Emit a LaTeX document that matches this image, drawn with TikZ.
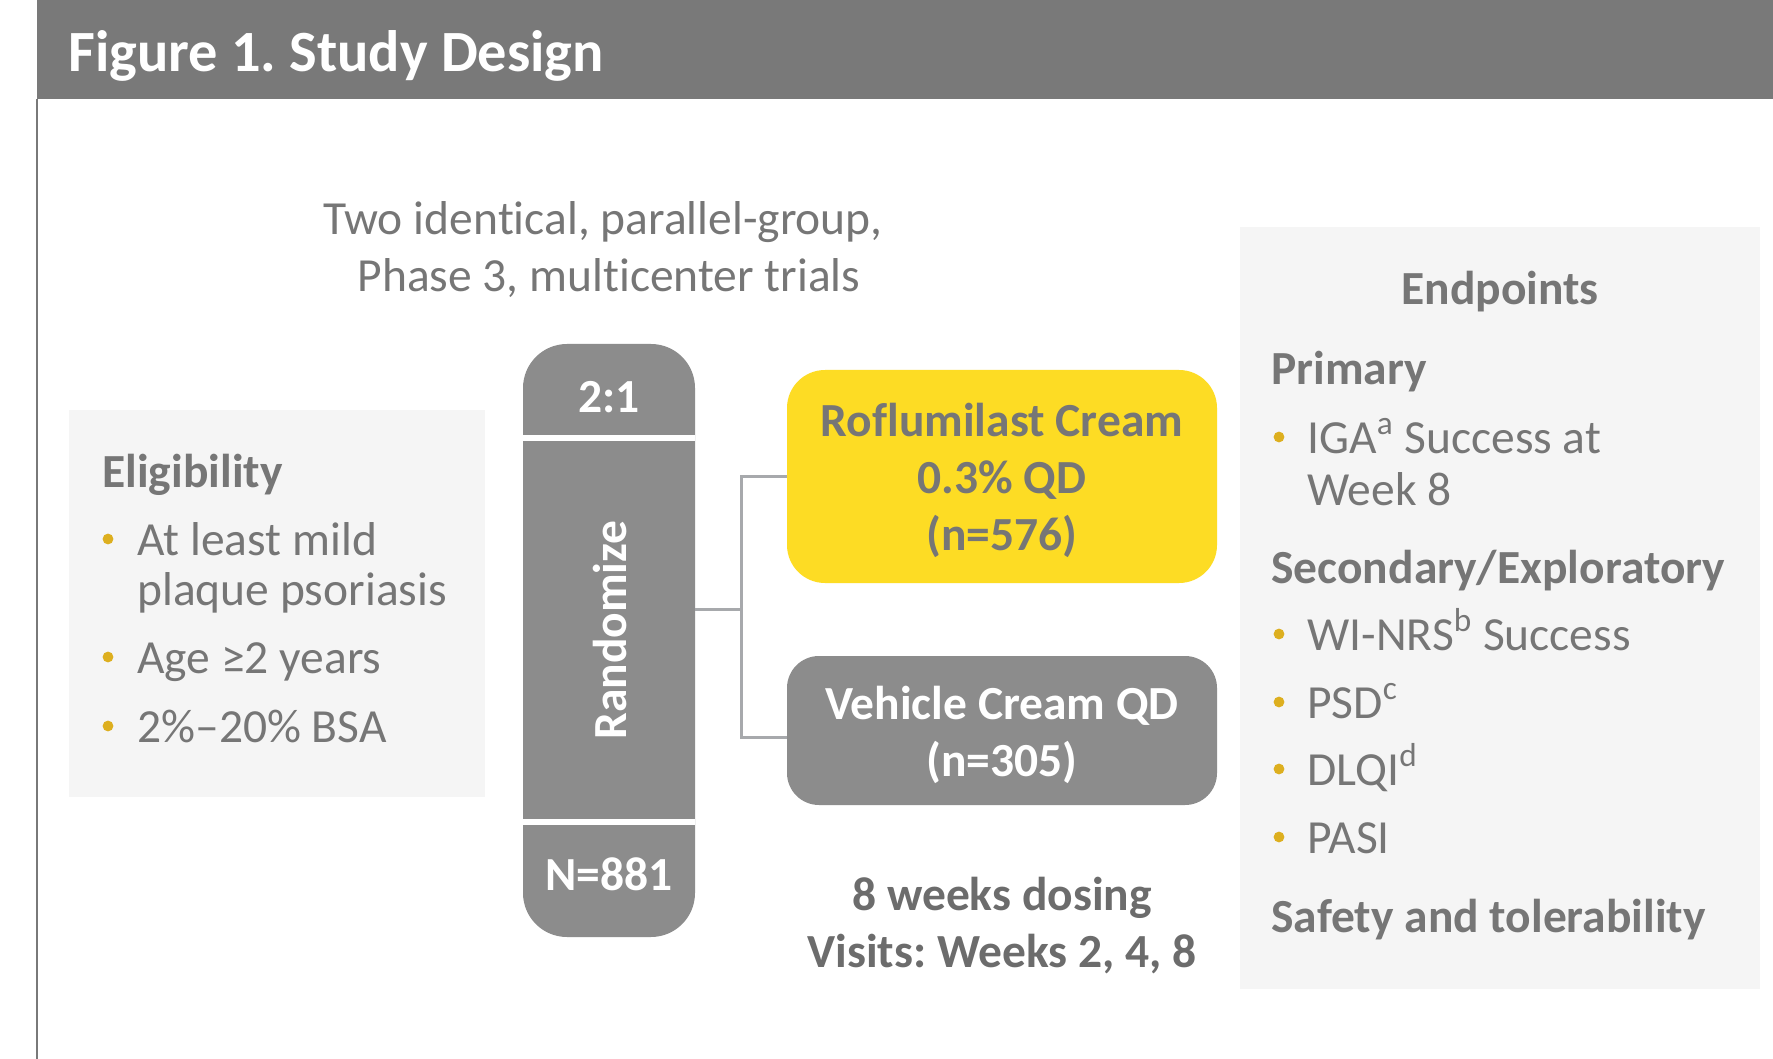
\documentclass[tikz,border=0pt]{standalone}
\usepackage{fontspec}
\setmainfont{Carlito}[Ligatures={TeX,NoCommon}]
\usetikzlibrary{positioning}

\definecolor{headgray}{HTML}{797979}
\definecolor{panel}{HTML}{F5F5F5}
\definecolor{textgray}{HTML}{767676}
\definecolor{darkgray}{HTML}{6C6C6C}
\definecolor{colgray}{HTML}{8C8C8C}
\definecolor{cream}{HTML}{FDDC24}
\definecolor{linkgray}{HTML}{A7A9AC}
\definecolor{gold}{HTML}{DDAF1F}

\tikzset{
  plain/.style={inner sep=0pt, text=textgray, font=\fontsize{23.75}{28.5}\selectfont},
  bold/.style={plain, font=\fontsize{23.75}{28.5}\selectfont\bfseries},
  title/.style={inner sep=0pt, text=white, font=\fontsize{29.2}{35}\selectfont\bfseries},
  collabel/.style={bold, text=white},
  arm/.style={rectangle, minimum width=215pt},
  armtext/.style={bold, align=center},
  link/.style={draw=linkgray, line width=1.5pt}
}

\begin{document}
\frenchspacing
\begin{tikzpicture}[x=0.5pt,y=-0.5pt]
  \useasboundingbox (0,0) rectangle (1773,1059);
  \fill[white] (0,0) rectangle (1773,1059);
  % header bar and left rule
  \fill[headgray] (37,0) rectangle (1773,99);
  \draw[headgray, line width=1pt] (37,99) -- (37,1059);
  \node[title, anchor=base west] (title) at (68,72) {Figure 1. Study Design};

  % side panels
  \fill[panel] (69,410) rectangle (485,797); \fill[panel] (1240,227) rectangle (1760,989);

  % anchor=base sits on the last line here; \kern0pt keeps t and i apart
  \node[plain, anchor=base, align=center] (trials) at (603,292) {Two iden\kern0pt t\kern0pt ical, parallel-group,\\ \hphantom{.}Phase 3, mul\kern0pt t\kern0pt icenter trials};

  % eligibility list
  \node[bold, anchor=base west] (elig) at (102,487) {Eligibility};
  \foreach \y/\t [count=\i] in {555/At least mild, 605/plaque psoriasis, 673/Age ≥2 years, 742/2\%--20\% BSA} {
    \node[plain, anchor=base west] (elig-\i) at (137,\y) {\t}; }
  \foreach \y in {555,673,742} { \fill[gold] (108,\y-16) circle (2.7pt); }

  % randomization column
  \node[fill=colgray, rounded corners=22pt, minimum width=86pt, minimum height=296.5pt] (col) at (609,640.5) {};
  \draw[white, line width=3pt] (col.west |- 0,438) -- (col.east |- 0,438) (col.west |- 0,822) -- (col.east |- 0,822);
  \node[collabel] (ratio) at (609,397) {2:1};
  \node[collabel, rotate=90] (rand) at (610,630) {Randomize};
  \node[collabel] (total) at (609,874) {N=881};

  % treatment arms
  \node[arm, fill=cream, minimum height=106.5pt, rounded corners=19pt] (roflu) at (1002,476.5) {};
  \node[armtext] (roflu-txt) at ([yshift=-2pt]roflu.center) {Roflumilast Cream\\0.3\% QD\\(n=576)};
  \node[arm, fill=colgray, minimum height=74.5pt, rounded corners=16pt] (vehicle) at (1002,730.5) {};
  \node[armtext, text=white] (vehicle-txt) at ([yshift=-2pt]vehicle.center) {Vehicle Cream QD\\(n=305)};
  \coordinate (split) at (741,609);
  \draw[link] (col.east |- split) -- (split);
  \draw[link] (roflu.west) -| (split) |- ([yshift=-3.5pt]vehicle.west);

  \node[bold, text=darkgray, anchor=base, align=center] (dosing) at (1002,967) {8 weeks dosing\\Visits: Weeks 2, 4, 8};

  % endpoints list
  \node[bold, anchor=base] (endp) at (1500,305) {Endpoints};
  \node[bold, anchor=base west] (prim) at (1271,385) {Primary};
  \node[plain, anchor=base west] (iga) at (1307,453) {IGA\textsuperscript{a} Success at};
  \node[plain, anchor=base west] (week) at (1307,505) {Week 8};
  \node[bold, anchor=base west] (second) at (1271,583) {Secondary/Exploratory};
  \foreach \y/\t [count=\i] in {650/WI-NRS\textsuperscript{b} Success, 718/PSD\textsuperscript{c}, 785/DLQI\textsuperscript{d}, 853/PASI} {
    \node[plain, anchor=base west] (sec-\i) at (1307,\y) {\t}; }
  \node[bold, anchor=base west] (safety) at (1271,932) {Safety and tolerability};
  \foreach \y in {453,650,718,785,853} { \fill[gold] (1279,\y-16) circle (2.7pt); }
\end{tikzpicture}
\end{document}
